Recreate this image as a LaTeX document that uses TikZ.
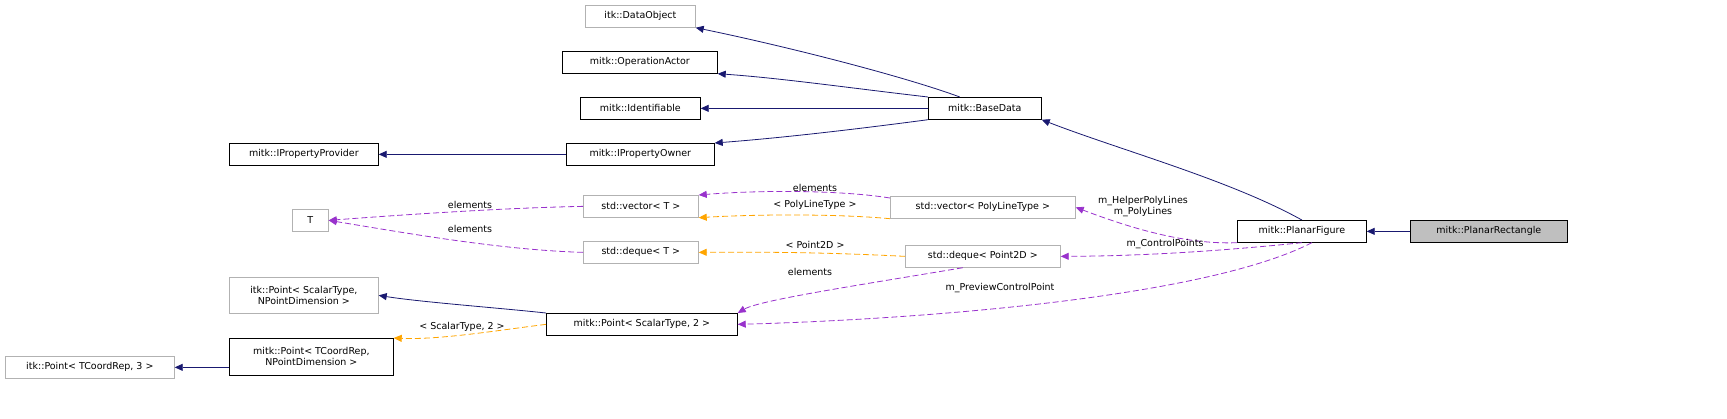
\documentclass[tikz,border=0pt]{standalone}
\usepackage{fontspec}
\setmainfont{DejaVu Sans}
\usetikzlibrary{arrows.meta}
\begin{document}
\begin{tikzpicture}[x=1pt,y=-1pt,
  box/.style={draw=black,line width=0.7pt,inner sep=2pt,font=\fontsize{9.5}{11}\selectfont,anchor=north west,align=center,minimum height=22pt},
  gbox/.style={box,draw=gray!60},
  inh/.style={draw={rgb,255:red,25;green,25;blue,112},line width=0.8pt,-{Triangle[length=8pt,width=7pt]}},
  use/.style={draw={rgb,255:red,153;green,50;blue,204},line width=0.8pt,dashed,dash pattern=on 6pt off 3pt,-{Triangle[length=8pt,width=7pt]}},
  tmpl/.style={draw={rgb,255:red,255;green,165;blue,0},line width=0.8pt,dashed,dash pattern=on 6pt off 3pt,-{Triangle[length=8pt,width=7pt]}},
  lab/.style={font=\fontsize{9.5}{11}\selectfont,inner sep=0pt,align=center}]
\useasboundingbox (0,0) rectangle (1727,418);
\node[gbox,minimum width=110pt] (DO) at (585,5) {itk::DataObject};
\node[box,minimum width=155pt] (OA) at (562,51) {mitk::OperationActor};
\node[box,minimum width=120pt] (ID) at (580,97) {mitk::Identifiable};
\node[box,minimum width=148pt] (PO) at (566,143) {mitk::IPropertyOwner};
\node[box,minimum width=149pt] (PP) at (229,143) {mitk::IPropertyProvider};
\node[box,minimum width=113pt] (BD) at (928,97) {mitk::BaseData};
\node[gbox,minimum width=36pt] (T) at (292,209) {T};
\node[gbox,minimum width=115pt] (VT) at (583,195) {std::vector< T >};
\node[gbox,minimum width=115pt] (DT) at (583,241) {std::deque< T >};
\node[gbox,minimum width=185pt] (VP) at (890,196) {std::vector< PolyLineType >};
\node[gbox,minimum width=155pt] (DP) at (905,245) {std::deque< Point2D >};
\node[box,minimum width=129pt] (PF) at (1237,220) {mitk::PlanarFigure};
\node[box,minimum width=157pt,fill={rgb,255:red,191;green,191;blue,191}] (PR) at (1410,220) {mitk::PlanarRectangle};
\node[gbox,minimum width=149pt,minimum height=36pt] (IPS) at (229,277) {itk::Point< ScalarType,\\NPointDimension >};
\node[box,minimum width=191pt] (MPS) at (546,313) {mitk::Point< ScalarType, 2 >};
\node[gbox,minimum width=169pt] (IPT) at (5,356) {itk::Point< TCoordRep, 3 >};
\node[box,minimum width=164pt,minimum height=37pt] (MPT) at (229,338) {mitk::Point< TCoordRep,\\NPointDimension >};
% inheritance
\draw[inh] (BD.north) ++(-25,0) coordinate (bd1) .. controls (900,75) and (780,45) .. (DO.south east);
\draw[inh] (BD.north west) .. controls (850,88) and (780,78) .. (OA.south east);
\draw[inh] (BD.west) -- (ID.east);
\draw[inh] (BD.south west) .. controls (850,130) and (780,138) .. (PO.north east);
\draw[inh] (PO.west) -- (PP.east);
\draw[inh] (PF.north) .. controls (1230,180) and (1120,150) .. (BD.south east);
\draw[inh] (PR.west) -- (PF.east);
\draw[inh] (MPS.north west) .. controls (500,308) and (420,302) .. (IPS.east);
\draw[inh] (MPT.west|-IPT.east) -- (IPT.east);
% usage
\draw[use] (VT.west) .. controls (500,208) and (400,215) .. (T.east);
\draw[use] (DT.west) .. controls (500,250) and (400,232) .. (T.east);
\draw[use] (VP.north west) ++(0,2) .. controls (840,190) and (760,190) .. (VT.north east);
\draw[tmpl] (VP.south west) .. controls (840,214) and (760,214) .. (VT.south east);
\draw[tmpl] (DP.west) .. controls (820,252) and (760,252) .. (DT.east);
\draw[use] (PF.south west) .. controls (1180,245) and (1120,224) .. (VP.east);
\draw[use] (PF.south) .. controls (1230,250) and (1150,256) .. (DP.east);
\draw[use] (DP.south) ++(-20,0) .. controls (860,285) and (760,300) .. (MPS.north east) ;
\draw[use] (PF.south) ++(10,0) .. controls (1200,300) and (900,320) .. (MPS.east);
\draw[tmpl] (MPS.west) .. controls (500,330) and (440,340) .. (MPT.east|-MPT.north);
% labels
\node[lab] (l1) at (470,205) {elements};
\node[lab] (l2) at (470,229) {elements};
\node[lab] (l3) at (815,188) {elements};
\node[lab] (l4) at (815,205) {< PolyLineType >};
\node[lab] (l5) at (815,245) {< Point2D >};
\node[lab] (l6) at (810,272) {elements};
\node[lab] (l7) at (1143,207) {m\_HelperPolyLines\\m\_PolyLines};
\node[lab] (l8) at (1165,244) {m\_ControlPoints};
\node[lab] (l9) at (1000,288) {m\_PreviewControlPoint};
\node[lab] (l10) at (462,327) {< ScalarType, 2 >};
\end{tikzpicture}
\end{document}
